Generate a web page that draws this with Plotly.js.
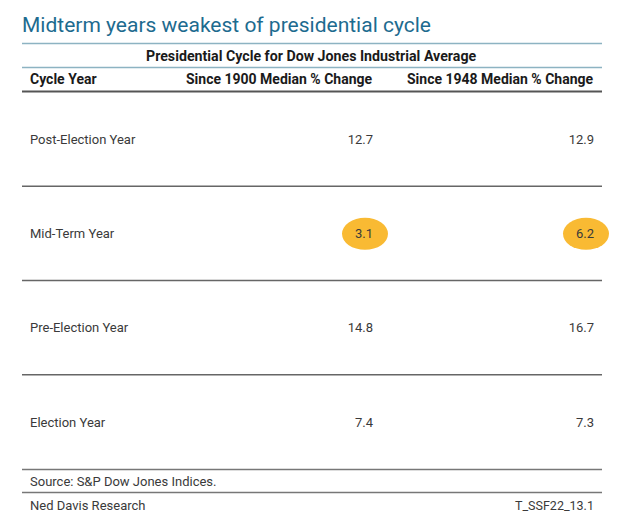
<!DOCTYPE html>
<html><head><meta charset="utf-8">
<script src="https://cdn.plot.ly/plotly-3.0.1.min.js"></script>
<style>html,body{margin:0;padding:0;background:#fff}#chart{width:630px;height:527px}</style>
</head><body><div id="chart"></div>
<script>
const cycleYears = ['Post-Election Year', 'Mid-Term Year', 'Pre-Election Year', 'Election Year'];
const since1900 = [12.7, 3.1, 14.8, 7.4];
const since1948 = [12.9, 6.2, 16.7, 7.3];
const highlighted = [false, true, false, false];
const columnHeaders = ['Cycle Year', 'Since 1900 Median % Change', 'Since 1948 Median % Change'];
const titleText = 'Midterm years weakest of presidential cycle';
const subtitleText = 'Presidential Cycle for Dow Jones Industrial Average';
const sourceText = 'Source: S&P Dow Jones Indices.';
const creditText = 'Ned Davis Research';
const codeText = 'T_SSF22_13.1';

// layout constants (pixel-like x axis, category y axis)
const W = 630, H = 527;
const row0 = 140.5, rowStep = 94.33;
const colLeft = 30, col1Right = 373, col2Right = 594;
const lineL = 22, lineR = 602;
const yRange = [(H - row0) / rowStep, -row0 / rowStep];
const font = 'Roboto, "Open Sans", sans-serif';
const textColor = '#3a3a3a';
const ellipseColor = '#F9BA33';

const traces = [];
const shapes = [];
// highlight ellipses around highlighted cells
const ew = 23, eh = 16 / rowStep;
highlighted.forEach((h, i) => {
  if (!h) return;
  [col1Right, col2Right].forEach((cx) => {
    const center = cx - 8;
    const yc = i - 1 / rowStep;
    shapes.push({type: 'circle', xref: 'x', yref: 'y', layer: 'below',
      x0: center - ew, x1: center + ew, y0: yc - eh, y1: yc + eh,
      fillcolor: ellipseColor, line: {width: 0}});
  });
});

traces.push({type: 'scatter', mode: 'text', x: cycleYears.map(() => colLeft), y: cycleYears,
  text: cycleYears, textposition: 'middle right', hoverinfo: 'skip',
  textfont: {family: font, size: 13, color: textColor}});
traces.push({type: 'scatter', mode: 'text', x: cycleYears.map(() => col1Right), y: cycleYears,
  text: since1900.map(v => v.toFixed(1)), textposition: 'middle left', hoverinfo: 'skip',
  textfont: {family: font, size: 13, color: textColor}});
traces.push({type: 'scatter', mode: 'text', x: cycleYears.map(() => col2Right), y: cycleYears,
  text: since1948.map(v => v.toFixed(1)), textposition: 'middle left', hoverinfo: 'skip',
  textfont: {family: font, size: 13, color: textColor}});

// horizontal rules
function hline(y, color, width) {
  shapes.push({type: 'line', xref: 'x', yref: 'paper', x0: lineL, x1: lineR,
    y0: 1 - y / H, y1: 1 - y / H, line: {color: color, width: width}});
}
hline(43.5, '#8db3c2', 1.5);
hline(67.5, '#8db3c2', 1.5);
hline(91.5, '#555', 2);
cycleYears.forEach((_, i) => {
  if (i < cycleYears.length - 1) hline(139 + (i + 0.5) * rowStep, '#666', 1.5);
});
hline(469.5, '#777', 1.5);
hline(492.5, '#777', 1.5);

function ann(text, x, y, anchor, size, color, bold) {
  return {text: bold ? '<b>' + text + '</b>' : text, xref: 'paper', yref: 'paper',
    x: x / W, y: 1 - y / H, xanchor: anchor, yanchor: 'middle', showarrow: false,
    font: {family: font, size: size, color: color}};
}
const annotations = [
  ann(titleText, 20, 25, 'left', 21, '#1d6b8f', false),
  ann(subtitleText, 311, 56, 'center', 14.2, '#1a1a1a', true),
  ann(columnHeaders[0], colLeft - 2, 79, 'left', 14, '#1a1a1a', true),
  ann(columnHeaders[1], col1Right + 2, 79, 'right', 14, '#1a1a1a', true),
  ann(columnHeaders[2], col2Right + 2, 79, 'right', 14, '#1a1a1a', true),
  ann(sourceText, colLeft - 2, 481, 'left', 13, textColor, false),
  ann(creditText, colLeft - 2, 505, 'left', 13, textColor, false),
  ann(codeText, col2Right + 2, 505, 'right', 12.5, textColor, false)
];

const layout = {
  width: W, height: H, margin: {l: 0, r: 0, t: 0, b: 0},
  paper_bgcolor: '#fff', plot_bgcolor: '#fff', showlegend: false,
  xaxis: {range: [0, W], visible: false, fixedrange: true},
  yaxis: {type: 'category', categoryorder: 'array', categoryarray: cycleYears,
    range: yRange, visible: false, fixedrange: true},
  shapes: shapes, annotations: annotations
};
Plotly.newPlot('chart', traces, layout, {displayModeBar: false, staticPlot: true});
</script></body></html>
